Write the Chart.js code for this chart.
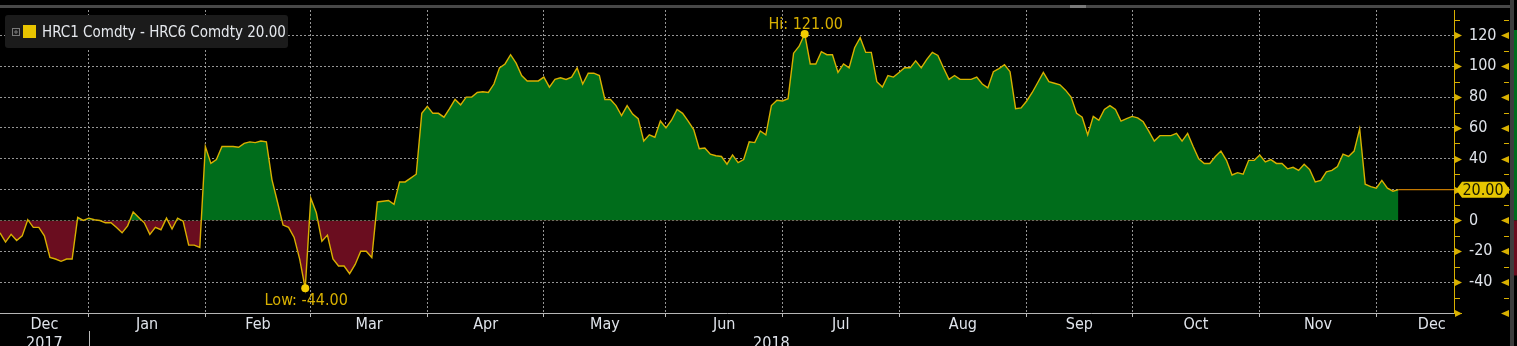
<!DOCTYPE html>
<html lang="en">
<head>
<meta charset="UTF-8">
<title>HRC1 Comdty - HRC6 Comdty</title>
<script src="https://cdn.jsdelivr.net/npm/chart.js"></script>
<style>
  html, body { margin: 0; padding: 0; background: #000; }
  #wrap { position: relative; width: 1517px; height: 346px; }
</style>
</head>
<body>
<div id="wrap"><canvas id="chart" width="1517" height="346"></canvas></div>

<script>
// HRC1 - HRC6 spread, one close per trading day (7 Dec 2017 .. 6 Dec 2018)
const spread = [
  -8, -14, -9, -13, -10, 0.5, -4.5, -4.5, -10, -24, -25, -26.5, -25, -25, 2, 0,
  1.5, 0.5, 0, -1.5, -1.5, -4.5, -8, -3.5, 5.5, 2, -1.5, -9, -4.5, -6, 1.5, -5.5, 1.5, -0.5, -16, -16, -17.5,
  48, 37, 39.5, 48, 48, 48, 47.5, 50, 51, 50.5, 51.5, 51, 26.5, 12, -3, -4.5, -11, -25, -44,
  14.5, 5, -13.5, -9.5, -25, -29.5, -29.5, -34.5, -28.5, -20, -20, -24, 12, 12.5, 13, 10.5, 25, 25, 27.5, 30, 69.5,
  74, 69.5, 69.5, 67, 72.5, 78.5, 75, 80, 80, 83, 83.5, 83, 88.5, 99, 101.5, 107.5, 102, 94, 90.5, 90.5, 90.5,
  93, 86.5, 91.5, 92.5, 91.5, 93, 99, 88.5, 95.5, 95.5, 94, 78.5, 78.5, 74.5, 68, 74.5, 69, 66, 51.5, 55.5, 54, 64.5,
  60, 65, 72, 69.5, 64.5, 59, 46.5, 47, 43, 42, 41.5, 36.5, 42.5, 37.5, 39.5, 51, 50.5, 58, 55.5, 74.5, 78,
  77.5, 79, 108.5, 113, 121, 101.5, 101.5, 109.5, 107.5, 107.5, 96, 101.5, 99, 112, 118.5, 109, 109, 90, 86.5, 94, 93,
  96, 99, 99, 103.5, 99, 104.5, 109, 107, 99, 91.5, 94, 91.5, 91.5, 91.5, 93, 88.5, 86, 96.5, 98.5, 101, 96.5, 72.5, 73,
  77.5, 83, 89.5, 96, 90, 89, 88, 84.5, 80, 69.5, 67, 55.5, 67.5, 65, 72, 74.5, 72, 64.5, 66,
  67.5, 66.5, 64, 58, 51.5, 55, 55, 55, 56.5, 51.5, 56.5, 48, 40, 37, 37, 41.5, 45, 39, 29.5, 31, 30, 39, 39,
  42.5, 38, 39.5, 37, 37, 33.5, 34.5, 32.5, 36.5, 33, 25, 26, 31.5, 32.5, 35, 43, 41.5, 45, 59.5, 23.5, 22,
  21, 26, 21, 19, 20
];

// trading-day index where each month begins (first entry = start of data, last = end of Dec 2018)
const monthBounds = [0, 16, 37, 56, 77, 98, 120, 141, 162, 185, 204, 227, 248, 268];
const monthLabels = ['Dec', 'Jan', 'Feb', 'Mar', 'Apr', 'May', 'Jun', 'Jul', 'Aug', 'Sep', 'Oct', 'Nov', 'Dec'];
const yearLabels = ['2017', '2018'];
const yTicks = [-40, -20, 0, 20, 40, 60, 80, 100, 120];
const seriesName = 'HRC1 Comdty - HRC6 Comdty';

const X_MAX = 262;
const Y_MIN = -60, Y_MAX = 136.5;

const lastIdx = spread.length - 1;
const lastVal = spread[lastIdx];
const hiVal = Math.max(...spread), loVal = Math.min(...spread);
const hiIdx = spread.indexOf(hiVal), loIdx = spread.indexOf(loVal);

const gold = '#d8b000';
const green = '#006d1b';
const red = '#6a0d1f';
const textCol = '#dfe3ea';
const gridCol = 'rgba(175,175,175,0.85)';
const FONT = '"Liberation Sans Narrow", "DejaVu Sans Condensed", sans-serif';

// month names in the middle of each month, year under Dec 2017 and across 2018
let labelTicks = [];
for (let i = 0; i < monthLabels.length; i++) {
  const mid = (monthBounds[i] + monthBounds[i + 1]) / 2;
  labelTicks.push({ value: mid, label: i === 0 ? [monthLabels[i], yearLabels[0]] : monthLabels[i] });
}
labelTicks.push({ value: (monthBounds[1] + X_MAX) / 2, label: ['', yearLabels[1]] });
labelTicks.sort((a, b) => a.value - b.value);

const bloombergDecor = {
  id: 'bloombergDecor',
  afterDraw(chart) {
    const ctx = chart.ctx;
    const ys = chart.scales.y, xs = chart.scales.x;
    const axisX = ys.left;
    ctx.save();

    // top frame line
    ctx.fillStyle = '#484848';
    ctx.fillRect(0, 5, 1511, 3);
    ctx.fillStyle = '#7a7a7a';
    ctx.fillRect(1070, 5, 16, 3);

    // right axis: yellow line, triangles on major ticks, small minor ticks
    ctx.strokeStyle = gold;
    ctx.fillStyle = gold;
    ctx.lineWidth = 1;
    ctx.beginPath();
    ctx.moveTo(axisX + 0.5, chart.chartArea.top);
    ctx.lineTo(axisX + 0.5, chart.chartArea.bottom + 0.5);
    ctx.lineTo(axisX + 8, chart.chartArea.bottom + 0.5);
    ctx.stroke();
    for (let v = Y_MIN; v <= 130; v += 10) {
      const py = Math.round(ys.getPixelForValue(v)) + 0.5;
      if (v % 20 === 0) {
        ctx.beginPath();
        ctx.moveTo(axisX + 1, py - 3.5);
        ctx.lineTo(axisX + 8, py);
        ctx.lineTo(axisX + 1, py + 3.5);
        ctx.fill();
        ctx.beginPath();
        ctx.moveTo(1509, py - 3.5);
        ctx.lineTo(1501, py);
        ctx.lineTo(1509, py + 3.5);
        ctx.fill();
      } else {
        ctx.beginPath();
        ctx.moveTo(axisX + 1, py); ctx.lineTo(axisX + 6, py);
        ctx.moveTo(1504, py); ctx.lineTo(1509, py);
        ctx.stroke();
      }
    }

    // panel divider and the edge of the neighbouring panel
    ctx.fillStyle = '#3c3c3c';
    ctx.fillRect(1510, 0, 4, 346);
    const zeroY = ys.getPixelForValue(0);
    ctx.fillStyle = green;
    ctx.fillRect(1514, 30, 3, zeroY - 30);
    ctx.fillStyle = red;
    ctx.fillRect(1514, zeroY, 3, 55);

    // last value tag
    const ty = ys.getPixelForValue(lastVal);
    ctx.fillStyle = '#e6c600';
    ctx.beginPath();
    ctx.moveTo(axisX + 2, ty);
    ctx.lineTo(axisX + 8, ty - 8);
    ctx.lineTo(1504, ty - 8);
    ctx.lineTo(1510, ty);
    ctx.lineTo(1504, ty + 8);
    ctx.lineTo(axisX + 8, ty + 8);
    ctx.closePath();
    ctx.fill();
    ctx.fillStyle = '#1a1a00';
    ctx.font = '16px ' + FONT;
    ctx.textAlign = 'center';
    ctx.textBaseline = 'middle';
    ctx.fillText(lastVal.toFixed(2), (axisX + 1510) / 2 + 1, ty + 1);

    // Hi / Low markers
    const hx = xs.getPixelForValue(hiIdx), hy = ys.getPixelForValue(hiVal);
    const lx = xs.getPixelForValue(loIdx), ly = ys.getPixelForValue(loVal);
    ctx.fillStyle = '#f2cc00';
    ctx.beginPath(); ctx.arc(hx, hy, 4, 0, Math.PI * 2); ctx.fill();
    ctx.beginPath(); ctx.arc(lx, ly, 4, 0, Math.PI * 2); ctx.fill();
    ctx.fillStyle = gold;
    ctx.font = '16px ' + FONT;
    ctx.textBaseline = 'alphabetic';
    ctx.fillText('Hi: ' + hiVal.toFixed(2), hx + 1, hy - 5);
    ctx.textBaseline = 'middle';
    ctx.fillText('Low: ' + loVal.toFixed(2), lx + 1, ly + 13);

    // year separator under Jan
    const jx = Math.round(xs.getPixelForValue(monthBounds[1])) + 0.5;
    ctx.strokeStyle = '#bbbbbb';
    ctx.beginPath(); ctx.moveTo(jx, 331); ctx.lineTo(jx, 346); ctx.stroke();

    // legend box
    ctx.fillStyle = '#1b1b1b';
    ctx.beginPath();
    ctx.roundRect(5, 15, 283, 33, 3);
    ctx.fill();
    ctx.strokeStyle = '#7a7a7a';
    ctx.strokeRect(12.5, 28.5, 7, 7);
    ctx.beginPath();
    ctx.moveTo(14, 32); ctx.lineTo(18, 32);
    ctx.moveTo(16, 30); ctx.lineTo(16, 34);
    ctx.stroke();
    ctx.fillStyle = '#e8c400';
    ctx.fillRect(23, 25, 13, 13);
    ctx.fillStyle = '#e6e9ee';
    ctx.font = '15px ' + FONT;
    ctx.textAlign = 'left';
    ctx.textBaseline = 'alphabetic';
    ctx.fillText(seriesName + ' ' + lastVal.toFixed(2), 42, 37);

    ctx.restore();
  }
};

new Chart(document.getElementById('chart'), {
  type: 'line',
  data: {
    datasets: [
      {
        data: spread.map((v, i) => ({ x: i, y: v })),
        borderColor: gold,
        borderWidth: 1.4,
        pointRadius: 0,
        tension: 0,
        fill: { target: { value: 0 }, above: green, below: red }
      },
      {
        data: [{ x: lastIdx, y: lastVal }, { x: X_MAX, y: lastVal }],
        borderColor: '#c47800',
        borderWidth: 1.2,
        pointRadius: 0,
        fill: false
      }
    ]
  },
  options: {
    responsive: false,
    animation: false,
    devicePixelRatio: 1,
    layout: { padding: { top: 10, left: 0, right: 0, bottom: 0 } },
    plugins: { legend: { display: false }, tooltip: { enabled: false } },
    scales: {
      x: {
        type: 'linear', position: 'bottom', weight: 0, min: 0, max: X_MAX, z: 1,
        afterBuildTicks: s => { s.ticks = monthBounds.slice(1).filter(v => v < X_MAX).map(v => ({ value: v })); },
        ticks: { display: false },
        grid: { color: gridCol, lineWidth: 1, drawTicks: true, tickLength: 4, tickColor: '#bbbbbb', tickBorderDash: [] },
        border: { display: true, color: '#b5b5b5', width: 1, dash: [2, 2] },
        afterFit: s => { s.height = 0; s.paddingLeft = 0; s.paddingRight = 0; }
      },
      months: {
        type: 'linear', position: 'bottom', weight: 1, min: 0, max: X_MAX,
        afterBuildTicks: s => { s.ticks = labelTicks.map(t => ({ value: t.value })); },
        ticks: {
          color: textCol, font: { family: FONT, size: 16, lineHeight: 1.15 }, padding: 3,
          autoSkip: false, maxRotation: 0, minRotation: 0,
          callback: (v, i) => labelTicks[i].label
        },
        grid: { display: false, drawTicks: false },
        border: { display: false },
        afterFit: s => { s.height = 33; s.paddingLeft = 0; s.paddingRight = 0; }
      },
      y: {
        type: 'linear', position: 'right', min: Y_MIN, max: Y_MAX, z: 1,
        afterBuildTicks: s => { s.ticks = yTicks.map(v => ({ value: v })); },
        ticks: { color: textCol, font: { family: FONT, size: 16 }, padding: 15, callback: v => String(v) },
        grid: { color: gridCol, lineWidth: 1, drawTicks: false },
        border: { display: true, color: gold, width: 1, dash: [2, 2] },
        afterFit: s => { s.width = 63; s.paddingTop = 0; s.paddingBottom = 0; }
      }
    }
  },
  plugins: [bloombergDecor]
});
</script>
</body>
</html>
